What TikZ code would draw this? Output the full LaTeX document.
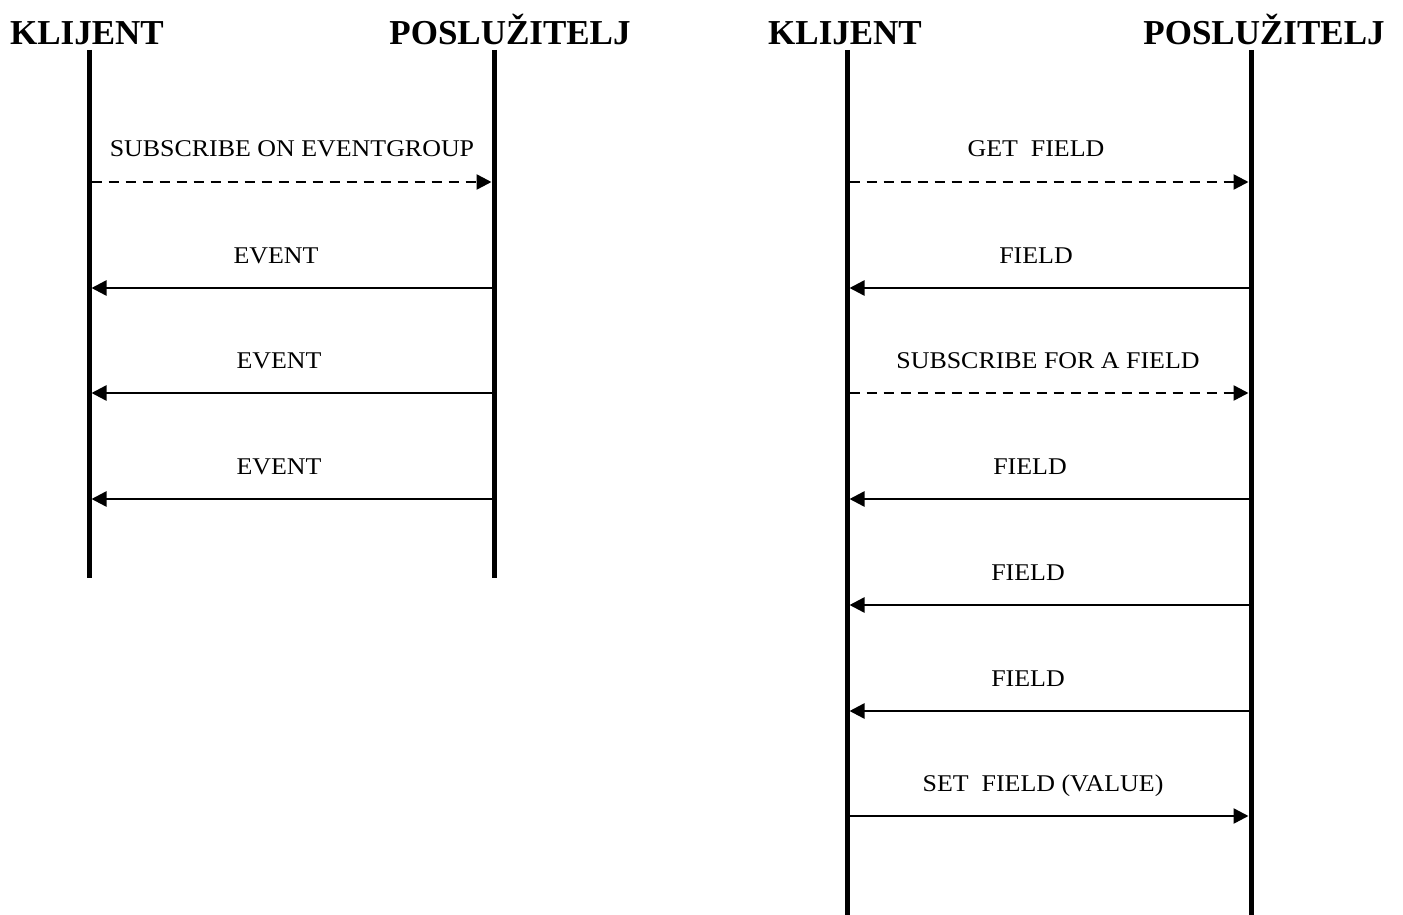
\documentclass[tikz,border=0pt]{standalone}
\usepackage{fontspec}
\setmainfont{Liberation Serif}
\newfontfamily\lblfont[FakeStretch=1.08]{Liberation Serif}
\usetikzlibrary{arrows.meta}
\begin{document}
\begin{tikzpicture}[x=1pt,y=-1pt,
  life/.style={line width=5pt},
  msg/.style={line width=2.5pt,-{Triangle[length=15pt,width=15pt]},shorten >=2.5pt,shorten <=2.5pt},
  async/.style={msg,dash pattern=on 10pt off 7pt},
  ttl/.style={font=\fontsize{35}{40}\selectfont\bfseries,anchor=base,inner sep=0pt},
  lbl/.style={font=\lblfont\fontsize{24}{28}\selectfont,anchor=base,inner sep=0pt}]
\useasboundingbox (0,0) rectangle (1403,915);
% titles
\node[ttl] (t1) at (87,45) {KLIJENT};
\node[ttl] (t2) at (510,45) {POSLUŽITELJ};
\node[ttl] (t3) at (845,45) {KLIJENT};
\node[ttl] (t4) at (1264,45) {POSLUŽITELJ};
% lifelines
\coordinate (a0) at (89,50);  \coordinate (a1) at (89,578);
\coordinate (b0) at (494,50); \coordinate (b1) at (494,578);
\coordinate (c0) at (847,50); \coordinate (c1) at (847,915);
\coordinate (d0) at (1251,50);\coordinate (d1) at (1251,915);
\draw[life] (a0) -- (a1);
\draw[life] (b0) -- (b1);
\draw[life] (c0) -- (c1);
\draw[life] (d0) -- (d1);
% left messages
\foreach \y in {182,288,393,499}{
  \coordinate (aL\y) at (89,\y); \coordinate (bL\y) at (494,\y);}
\draw[async] (aL182) -- (bL182);
\draw[msg] (bL288) -- (aL288);
\draw[msg] (bL393) -- (aL393);
\draw[msg] (bL499) -- (aL499);
\node[lbl] (l1) at (292,157) {SUBSCRIBE ON EVENTGROUP};
\node[lbl] (l2) at (276,263) {EVENT};
\node[lbl] (l3) at (279,368) {EVENT};
\node[lbl] (l4) at (279,474) {EVENT};
% right messages
\foreach \y in {182,288,393,499,605,711,816}{
  \coordinate (cR\y) at (847,\y); \coordinate (dR\y) at (1251,\y);}
\draw[async] (cR182) -- (dR182);
\draw[msg] (dR288) -- (cR288);
\draw[async] (cR393) -- (dR393);
\draw[msg] (dR499) -- (cR499);
\draw[msg] (dR605) -- (cR605);
\draw[msg] (dR711) -- (cR711);
\draw[msg] (cR816) -- (dR816);
\node[lbl] (r1) at (1036,157) {GET\ \ FIELD};
\node[lbl] (r2) at (1036,263) {FIELD};
\node[lbl] (r3) at (1048,368) {SUBSCRIBE FOR A FIELD};
\node[lbl] (r4) at (1030,474) {FIELD};
\node[lbl] (r5) at (1028,580) {FIELD};
\node[lbl] (r6) at (1028,686) {FIELD};
\node[lbl] (r7) at (1043,791) {SET\ \ FIELD (VALUE)};
\end{tikzpicture}
\end{document}
